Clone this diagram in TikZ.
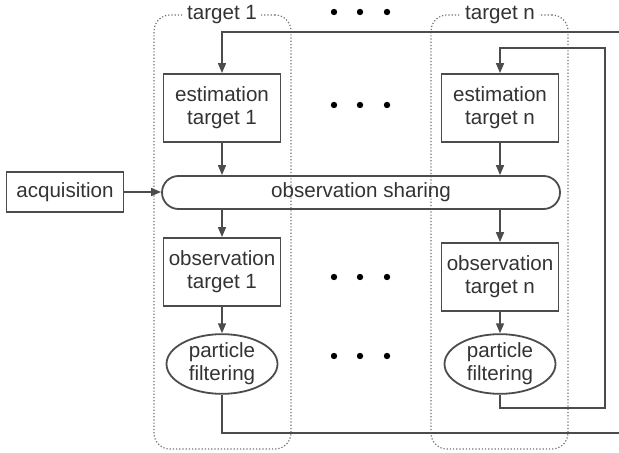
\documentclass[tikz,border=0pt]{standalone}
\usepackage{fontspec}
\setmainfont{Liberation Sans}
\usetikzlibrary{arrows.meta,shapes.geometric,shapes.misc}
\definecolor{linec}{gray}{0.3}
\definecolor{textc}{gray}{0.2}

\begin{document}
\begin{tikzpicture}[x=0.5pt,y=-0.5pt,
   font=\fontsize{10.3pt}{11.5pt}\selectfont,
   every node/.style={text=textc,align=center},
   block/.style={draw=linec,line width=0.9pt,minimum width=58.5pt,minimum height=34pt,inner sep=1pt},
   pfilter/.style={draw=linec,line width=0.9pt,ellipse,minimum width=55.5pt,minimum height=28.5pt,inner sep=0pt},
   frame/.style={draw=linec!80,densely dotted,line width=0.6pt,rounded corners=8pt,minimum width=68.5pt,minimum height=217pt},
   flow/.style={draw=linec,line width=0.8pt,-{Triangle[length=5pt,width=4pt]}}]
\useasboundingbox (0,0) rectangle (619,453);

% target columns
\node[frame] (frame1) at (222.5,232) {};
\node[frame] (framen) at (499.5,232) {};
\node[fill=white,inner sep=2pt] (title1) at (222,15) {target 1};
\node[fill=white,inner sep=2pt] (titlen) at (500,15) {target n};

% blocks
\node[block,minimum height=20pt] (acq) at (65,192) {acquisition};
\node[block] (est1) at (222,108) {estimation\\target 1};
\node[block] (estn) at (500,108) {estimation\\target n};
\node[draw=linec,line width=0.9pt,rounded rectangle,minimum width=201pt,minimum height=16.5pt,inner sep=1pt]
   (share) at (361,192.5) {observation sharing};
\node[block] (obs1) at (222,272) {observation\\target 1};
\node[block] (obsn) at (500,277) {observation\\target n};
\node[pfilter] (pf1) at (222,364) {particle\\filtering};
\node[pfilter] (pfn) at (500,364) {particle\\filtering};

% dots between the columns
\foreach \y in {12,105,277,356}
   \foreach \x in {334,360,387}
      \fill[black] (\x,\y) circle (1.6pt);

% connectors
\draw[flow] (acq.east) -- (acq.east -| share.west);
\draw[flow] (est1) -- (est1 |- share.north);
\draw[flow] (estn) -- (estn |- share.north);
\draw[flow] (obs1 |- share.south) -- (obs1);
\draw[flow] (obsn |- share.south) -- (obsn);
\draw[flow] (obs1) -- (pf1);
\draw[flow] (obsn) -- (pfn);

% feedback loops
\coordinate (c1) at (624,433);
\coordinate (c2) at (624,32);
\coordinate (cn1) at (605,408);
\coordinate (cn2) at (605,48);
\draw[flow] (pf1.south) |- (c1) -- (c2) -| (est1.north);
\draw[flow] (pfn.south) |- (cn1) -- (cn2) -| (estn.north);
\end{tikzpicture}
\end{document}
